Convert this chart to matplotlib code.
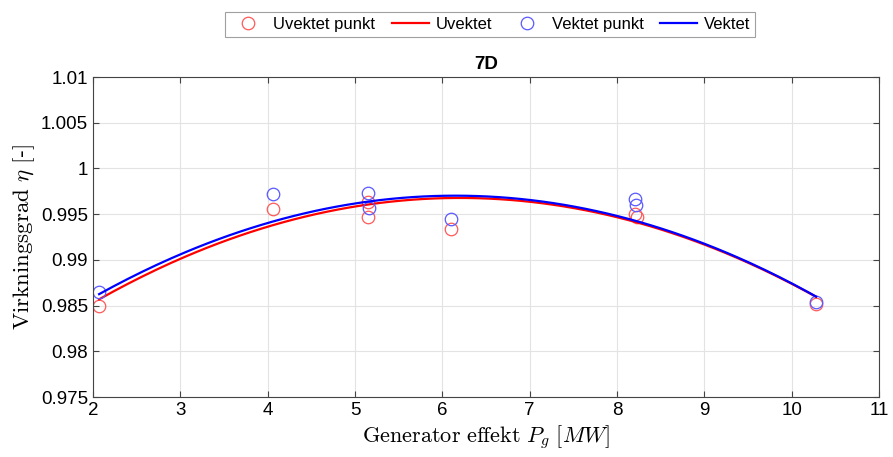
import numpy as np
import matplotlib
matplotlib.use("Agg")
import matplotlib.pyplot as plt

plt.rcParams['font.family'] = ['Liberation Sans', 'DejaVu Sans']
plt.rcParams['mathtext.fontset'] = 'cm'

x_uvektet = [2.07, 4.06, 5.15, 5.15, 6.10, 8.21, 8.23, 10.28]
y_uvektet = [0.98496, 0.99557, 0.99637, 0.99473, 0.99341, 0.99499, 0.99473, 0.98517]
x_vektet = [2.07, 4.06, 5.15, 5.16, 6.10, 8.21, 8.22, 10.28]
y_vektet = [0.98649, 0.99721, 0.99729, 0.99571, 0.99451, 0.99666, 0.99604, 0.98543]

# fitted parabolas: (top x, top y, curvature)
fit_uvektet = (6.20, 0.99677, 0.000650)
fit_vektet = (6.15, 0.99702, 0.000647)

xticks = [2, 3, 4, 5, 6, 7, 8, 9, 10, 11]
yticks = [0.975, 0.98, 0.985, 0.99, 0.995, 1.0, 1.005, 1.01]
yticklabels = ['0.975', '0.98', '0.985', '0.99', '0.995', '1', '1.005', '1.01']


def parabola(fit, x):
    xp, yp, a = fit
    return yp - a * (x - xp) ** 2


xf = np.linspace(min(x_uvektet), max(x_uvektet), 200)

fig = plt.figure(figsize=(8.93, 4.57), dpi=100)
ax = fig.add_axes([93/893, 60/457, 786/893, 320/457])

ax.plot(x_uvektet, y_uvektet, 'o', mfc='none', mec=(1, 0.35, 0.35), ms=9, mew=0.9,
        label='Uvektet punkt')
ax.plot(xf, parabola(fit_uvektet, xf), color='red', lw=1.6, label='Uvektet')
ax.plot(x_vektet, y_vektet, 'o', mfc='none', mec=(0.35, 0.35, 1), ms=9, mew=0.9,
        label='Vektet punkt')
ax.plot(xf, parabola(fit_vektet, xf), color='blue', lw=1.6, label='Vektet')

ax.set_xlim(2, 11)
ax.set_ylim(0.975, 1.01)
ax.set_xticks(xticks)
ax.set_yticks(yticks)
ax.set_yticklabels(yticklabels)
ax.tick_params(direction='in', labelsize=13.5, length=4, color='#444444', top=True, right=True,
               labeltop=False, labelright=False)
ax.grid(True, color='#e3e3e3', lw=0.8)
ax.set_axisbelow(True)
for s in ax.spines.values():
    s.set_color('#444444')
    s.set_linewidth(0.8)

ax.set_xlabel(r'$\mathrm{Generator\ effekt}\ P_g\ [MW]$', fontsize=16, labelpad=3)
ax.set_ylabel(r'$\mathrm{Virkningsgrad}\ \eta\ \mathrm{[}$-$\mathrm{]}$', fontsize=16.5, labelpad=3)
ax.set_title('7D', fontsize=13.5, fontweight='bold', pad=6)

leg = fig.legend(loc='upper center', bbox_to_anchor=(490/893, 1 - 4/457), ncol=4,
                 fontsize=12, frameon=True, fancybox=False, edgecolor='#888888',
                 handlelength=2.2, columnspacing=1.0, handletextpad=0.4, borderpad=0.3)
leg.get_frame().set_linewidth(0.8)

fig.savefig('out.png', dpi=100)
